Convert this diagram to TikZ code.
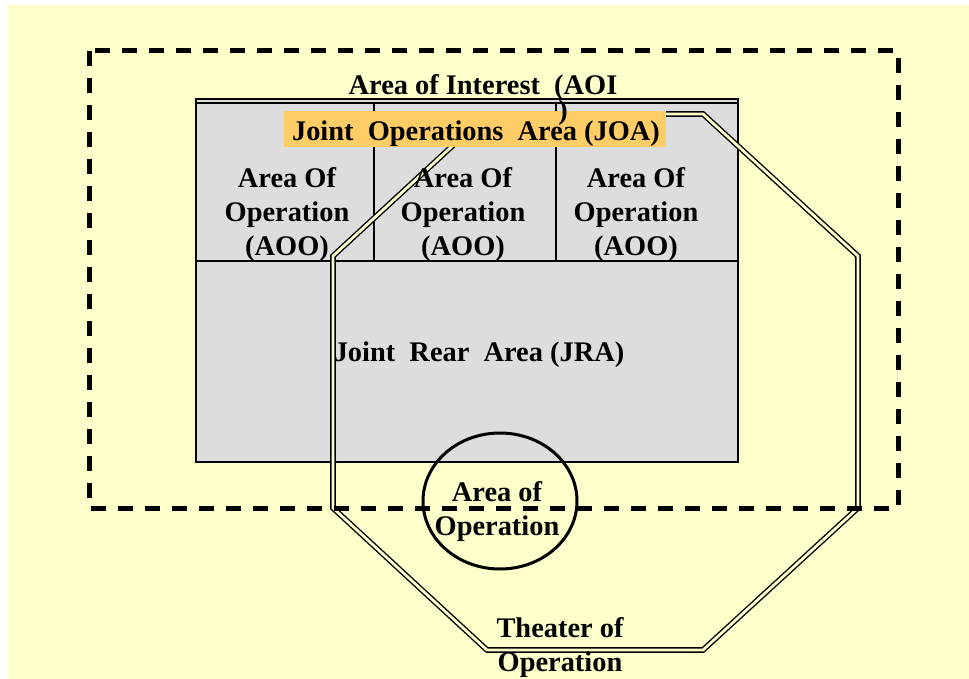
\documentclass[tikz,border=0pt]{standalone}
\usepackage{fontspec}
\setmainfont{Liberation Serif}
\definecolor{paleyellow}{HTML}{FFFFCC}
\definecolor{areagray}{HTML}{DDDDDD}
\definecolor{joaorange}{HTML}{FFCC66}
\begin{document}
\begin{tikzpicture}[x=1pt, y=-1pt,
	lbl/.style={font=\fontsize{28.4}{34}\selectfont\bfseries, align=center, inner sep=0pt, anchor=base},
	theater/.style={line width=1.4pt, double=paleyellow, double distance=2.8pt},
	aoi/.style={line width=5pt, dash pattern=on 15pt off 12pt}]

	\useasboundingbox (0,0) rectangle (969,679);
	\fill[paleyellow] (8,5) rectangle (969,679);

	% joint operations area
	\draw[fill=areagray, line width=1.5pt] (196,99) rectangle (738,462);
	\draw[line width=1.2pt] (196,103) -- (738,103);
	\draw[line width=1.5pt] (196,261) -- (738,261);
	\draw[line width=1.5pt] (374,103) -- (374,261);
	\draw[line width=1.5pt] (556,103) -- (556,261);

	% theater of operation
	\draw[theater] (333,256) -- (487,114) -- (703,114) -- (858,256) -- (858,508) -- (703,650) -- (487,650) -- (333,508) -- cycle;

	\fill[joaorange] (284,111) rectangle (666,147);

	\node[lbl] (aoi) at (483,95) {Area of Interest~~(AOI};
	\node[lbl] (aoiparen) at (563,120) {)};
	\node[lbl] (joa) at (476,141) {Joint~~Operations~~Area (JOA)};
	\node[lbl] (aoo1) at (287,255) {Area Of\\Operation\\(AOO)};
	\node[lbl] (aoo2) at (463,255) {Area Of\\Operation\\(AOO)};
	\node[lbl] (aoo3) at (636,255) {Area Of\\Operation\\(AOO)};
	\node[lbl] (jra) at (479,361) {Joint~~Rear~~Area (JRA)};

	% area of interest
	\draw[aoi] (89,51) rectangle (898,508);

	% area of operation
	\draw[line width=3pt] (500,501) ellipse [x radius=77pt, y radius=68pt];
	\node[lbl] (ao) at (497,535) {Area of\\Operation};
	\node[lbl] (theater) at (560,671) {Theater of\\Operation};

\end{tikzpicture}
\end{document}
